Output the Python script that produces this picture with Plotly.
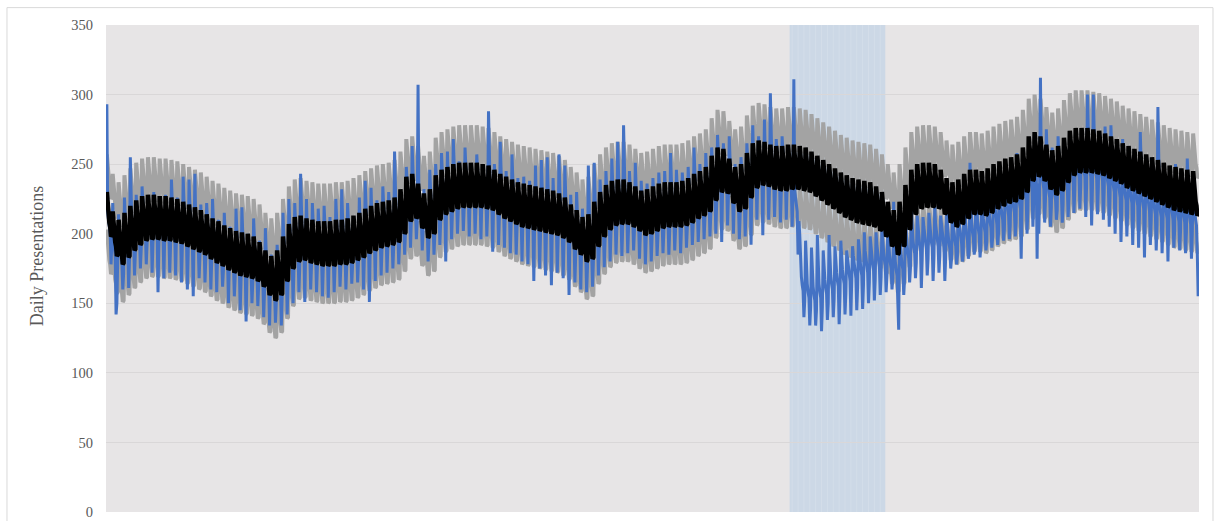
import plotly.graph_objects as go

# Weekly level of the model's predicted daily presentations (one value per week)
predicted_weekly = [
    210, 196, 190, 195, 200, 204, 207, 208, 208, 207,
    207, 206, 205, 203, 201, 199, 197, 194, 191, 189,
    186, 184, 182, 181, 180, 178, 174, 168, 164, 168,
    178, 187, 192, 193, 191, 190, 189, 189, 189, 190,
    190, 191, 193, 195, 198, 200, 202, 203, 204, 206,
    212, 221, 223, 216, 209, 212, 222, 226, 228, 230,
    231, 231, 231, 231, 230, 229, 226, 223, 221, 219,
    217, 216, 215, 214, 213, 212, 211, 209, 206, 201,
    197, 192, 194, 203, 210, 215, 218, 219, 219, 217,
    214, 211, 212, 214, 216, 217, 217, 217, 218, 220,
    223, 225, 228, 236, 242, 241, 234, 228, 230, 238,
    245, 247, 246, 244, 243, 243, 244, 244, 243, 242,
    239, 236, 233, 230, 227, 224, 222, 220, 219, 218,
    217, 214, 210, 203, 197, 203, 215, 226, 230, 231,
    231, 230, 226, 220, 217, 219, 223, 226, 226, 225,
    227, 230, 232, 234, 235, 237, 242, 250, 253, 250,
    244, 240, 243, 249, 254, 256, 256, 256, 255, 254,
    252, 250, 248, 245, 243, 241, 239, 237, 235, 233,
    231, 229, 228, 227, 226, 225,
]

# Weekly level of the observed daily presentations
observed_weekly = [
    206, 186, 184, 194, 199, 202, 206, 207, 205, 205,
    205, 203, 203, 200, 199, 197, 196, 193, 189, 187,
    184, 182, 180, 179, 178, 176, 172, 166, 163, 167,
    177, 186, 190, 191, 190, 189, 188, 188, 188, 190,
    190, 191, 193, 196, 199, 200, 202, 204, 204, 206,
    213, 222, 222, 215, 208, 212, 222, 226, 228, 230,
    231, 231, 230, 230, 229, 227, 225, 222, 220, 217,
    215, 214, 213, 212, 211, 210, 209, 207, 204, 199,
    194, 189, 192, 202, 209, 214, 217, 218, 218, 216,
    212, 209, 210, 212, 214, 215, 216, 216, 217, 219,
    222, 224, 227, 235, 241, 240, 232, 226, 229, 237,
    244, 246, 245, 243, 242, 243, 240, 222, 165, 160,
    158, 160, 163, 166, 168, 170, 172, 174, 176, 178,
    180, 182, 183, 181, 176, 180, 188, 192, 194, 195,
    196, 197, 196, 195, 197, 199, 201, 203, 205, 207,
    210, 213, 216, 219, 221, 224, 230, 238, 242, 238,
    232, 230, 234, 240, 245, 247, 247, 247, 246, 244,
    240, 236, 232, 230, 228, 226, 224, 222, 220, 218,
    217, 216, 215, 214, 213, 212,
]

# Observed weekly high (first day of each week)
observed_peak = [
    293, 222, 214, 226, 255, 228, 234, 226, 230, 224,
    228, 239, 226, 241, 239, 243, 221, 222, 225, 210,
    215, 205, 218, 219, 200, 211, 195, 204, 185, 192,
    215, 225, 222, 243, 225, 222, 218, 220, 212, 225,
    232, 222, 211, 226, 238, 233, 224, 234, 230, 259,
    225, 248, 263, 307, 232, 246, 250, 258, 259, 268,
    252, 262, 250, 257, 248, 288, 250, 266, 245, 257,
    240, 241, 238, 249, 253, 255, 240, 257, 249, 228,
    230, 218, 249, 251, 239, 245, 254, 266, 278, 245,
    251, 238, 236, 240, 244, 245, 258, 246, 244, 248,
    262, 250, 258, 262, 271, 265, 270, 250, 255, 265,
    278, 270, 282, 301, 268, 270, 262, 311, 200, 195,
    190, 199, 188, 199, 191, 195, 188, 191, 196, 201,
    198, 201, 205, 210, 223, 215, 210, 218, 213, 212,
    215, 220, 213, 218, 215, 230, 238, 251, 244, 232,
    236, 230, 240, 234, 245, 258, 254, 262, 268, 312,
    275, 262, 270, 265, 256, 268, 275, 300, 300, 270,
    277, 278, 262, 268, 255, 260, 273, 250, 245, 291,
    248, 240, 250, 238, 254, 240,
]

# Observed weekly low (sixth day of each week)
observed_trough = [
    178, 150, 160, 161, 170, 175, 178, 172, 158, 168,
    172, 170, 165, 160, 155, 168, 165, 160, 158, 162,
    150, 155, 145, 137, 150, 148, 140, 134, 136, 134,
    142, 150, 158, 151, 160, 158, 155, 154, 158, 162,
    160, 164, 165, 160, 151, 166, 170, 172, 175, 178,
    185, 190, 196, 188, 180, 185, 192, 180, 196, 200,
    202, 198, 200, 196, 198, 187, 192, 190, 186, 185,
    180, 178, 166, 175, 170, 163, 172, 168, 156, 165,
    160, 158, 162, 170, 176, 180, 185, 184, 186, 188,
    182, 178, 180, 184, 186, 185, 188, 186, 190, 192,
    194, 196, 198, 200, 194, 206, 200, 196, 198, 192,
    210, 199, 210, 212, 208, 210, 205, 185, 140, 134,
    134, 130, 138, 140, 135, 142, 141, 145, 146, 150,
    152, 156, 158, 160, 150, 156, 165, 168, 161, 170,
    166, 172, 166, 175, 178, 180, 182, 185, 183, 188,
    190, 192, 195, 196, 198, 182, 200, 205, 200, 208,
    205, 210, 208, 212, 215, 218, 212, 206, 214, 210,
    205, 200, 194, 198, 192, 190, 183, 192, 188, 186,
    180, 190, 188, 186, 182, 185,
]

# Day-of-week deviations from the weekly level
predicted_dow = [20, 8, 2, -2, -5, -12, -11]
observed_dow = [0, 10, 4, -2, -6, 0, -13]

# Half-width of the prediction interval
interval_half_width = 27

# Single low days that stand out from the weekly pattern (day index: presentations)
observed_outliers = {11: 142, 944: 131, 1109: 182, 1301: 155}

# Period of the public-health restrictions (day indices)
restriction_start, restriction_end = 814, 928

n_days = len(predicted_weekly) * 7
days = list(range(n_days))
predicted = [predicted_weekly[d // 7] + predicted_dow[d % 7] for d in days]
observed = []
for d in days:
    w, k = divmod(d, 7)
    if k == 0:
        observed.append(observed_peak[w])
    elif k == 5:
        observed.append(observed_trough[w])
    else:
        observed.append(observed_weekly[w] + observed_dow[k])
for d, v in observed_outliers.items():
    observed[d] = v
upper = [p + interval_half_width for p in predicted]
lower = [p - interval_half_width for p in predicted]

fig = go.Figure()
grey = "#a3a3a3"
fig.add_trace(go.Scatter(x=days, y=upper, mode="lines", line=dict(color=grey, width=4), name="Upper"))
fig.add_trace(go.Scatter(x=days, y=lower, mode="lines", line=dict(color=grey, width=4), name="Lower"))
fig.add_trace(go.Scatter(x=days, y=observed, mode="lines", line=dict(color="#4472c4", width=3),
                         name="Observed"))
fig.add_trace(go.Scatter(x=days, y=predicted, mode="lines", line=dict(color="#000000", width=4.5),
                         name="Predicted"))

# Shaded restriction period with faint weekly stripes
fig.add_shape(type="rect", xref="x", yref="paper", x0=restriction_start, x1=restriction_end,
              y0=0, y1=1, fillcolor="rgba(170,200,230,0.45)", line_width=0, layer="below")
for d in range(restriction_start + 3, restriction_end, 7):
    fig.add_shape(type="line", xref="x", yref="paper", x0=d, x1=d, y0=0, y1=1,
                  line=dict(color="rgba(255,255,255,0.15)", width=1), layer="below")

# Outer chart frame
fig.add_shape(type="rect", xref="paper", yref="paper", x0=-0.0906, x1=1.0128, y0=-0.05, y1=1.0357,
              line=dict(color="#d9d9d9", width=1), fillcolor="rgba(0,0,0,0)", layer="below")

# Y-axis title
fig.add_annotation(text="Daily Presentations", xref="paper", yref="paper", x=-0.0741, y=0.525,
                   textangle=-90, showarrow=False, font=dict(size=18, color="#595959"))

fig.update_layout(
    width=1214, height=521,
    margin=dict(l=106, r=15, t=25, b=9),
    paper_bgcolor="#ffffff",
    plot_bgcolor="#e7e5e6",
    showlegend=False,
    font=dict(family="Liberation Serif, Times New Roman, serif", color="#595959", size=14.5),
)
fig.update_xaxes(range=[-1, n_days], showticklabels=False, showgrid=False, zeroline=False,
                 showline=False, automargin=False)
fig.update_yaxes(range=[0, 350], dtick=50, showgrid=True, gridcolor="#d9d7d8", gridwidth=1,
                 zeroline=False, showline=False, ticklabelstandoff=12, ticklabeloverflow="allow",
                 automargin=False)

fig.write_html("out.html")
